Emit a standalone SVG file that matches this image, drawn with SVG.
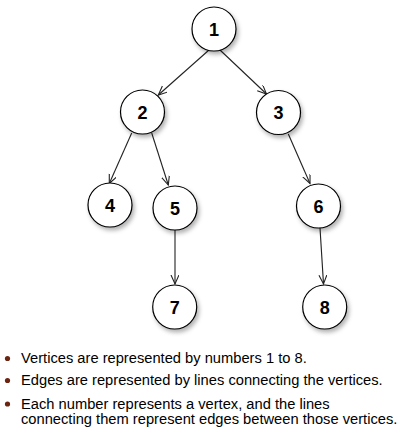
<svg xmlns="http://www.w3.org/2000/svg" width="407" height="443" viewBox="0 0 407 443">
<style>
.node circle{fill:#fff;stroke:#000;stroke-width:1.2;filter:url(#sh)}
.node text{font-family:"Liberation Sans",Arial,sans-serif;font-weight:bold;font-size:18px;text-anchor:middle;fill:#000}
.edges line{stroke:#222;stroke-width:1.1;marker-end:url(#arr)}
.note{font-family:"Liberation Sans",Arial,sans-serif;font-size:14.7px;fill:#000}
.bullet{fill:#6b2410}
</style>
<defs>
<filter id="sh" x="-30%" y="-30%" width="170%" height="170%">
<feDropShadow dx="2" dy="3" stdDeviation="2" flood-color="#000" flood-opacity="0.3"/>
</filter>
<marker id="arr" markerUnits="userSpaceOnUse" markerWidth="12" markerHeight="12" refX="9" refY="4" orient="auto">
<path d="M0,0 L9,4 L0,8" fill="none" stroke="#222" stroke-width="1.1"/>
</marker>
</defs>
<rect width="407" height="443" fill="#fff"/>
<g class="edges">
<line x1="209" y1="50" x2="158.3" y2="95"/>
<line x1="220" y1="50" x2="266.5" y2="94"/>
<line x1="131.7" y1="133" x2="109.3" y2="183.5"/>
<line x1="151.7" y1="133" x2="168.3" y2="185"/>
<line x1="288.3" y1="134" x2="310" y2="183.5"/>
<line x1="175" y1="230" x2="175" y2="284"/>
<line x1="320" y1="228" x2="323.5" y2="284"/>
</g>
<g id="n1" class="node"><circle cx="214" cy="29" r="22"/><text x="214" y="35.5">1</text></g>
<g id="n2" class="node"><circle cx="142.5" cy="112" r="22"/><text x="142.5" y="118.5">2</text></g>
<g id="n3" class="node"><circle cx="278.5" cy="112.5" r="22"/><text x="278.5" y="119">3</text></g>
<g id="n4" class="node"><circle cx="110" cy="205" r="22"/><text x="110" y="211.5">4</text></g>
<g id="n5" class="node"><circle cx="175" cy="208" r="22"/><text x="175" y="214.5">5</text></g>
<g id="n6" class="node"><circle cx="318.5" cy="206" r="22"/><text x="318.5" y="212.5">6</text></g>
<g id="n7" class="node"><circle cx="174.7" cy="307" r="22"/><text x="174.7" y="313.5">7</text></g>
<g id="n8" class="node"><circle cx="324.7" cy="307" r="22"/><text x="324.7" y="313.5">8</text></g>
<g id="notes">
<circle class="bullet" cx="7.5" cy="358.5" r="2.6"/>
<circle class="bullet" cx="7.5" cy="380.5" r="2.6"/>
<circle class="bullet" cx="7.5" cy="404" r="2.6"/>
<text class="note" x="21" y="363">Vertices are represented by numbers 1 to 8.</text>
<text class="note" x="21" y="385">Edges are represented by lines connecting the vertices.</text>
<text class="note" x="21" y="409">Each number represents a vertex, and the lines</text>
<text class="note" x="21" y="424">connecting them represent edges between those vertices.</text>
</g>
</svg>
